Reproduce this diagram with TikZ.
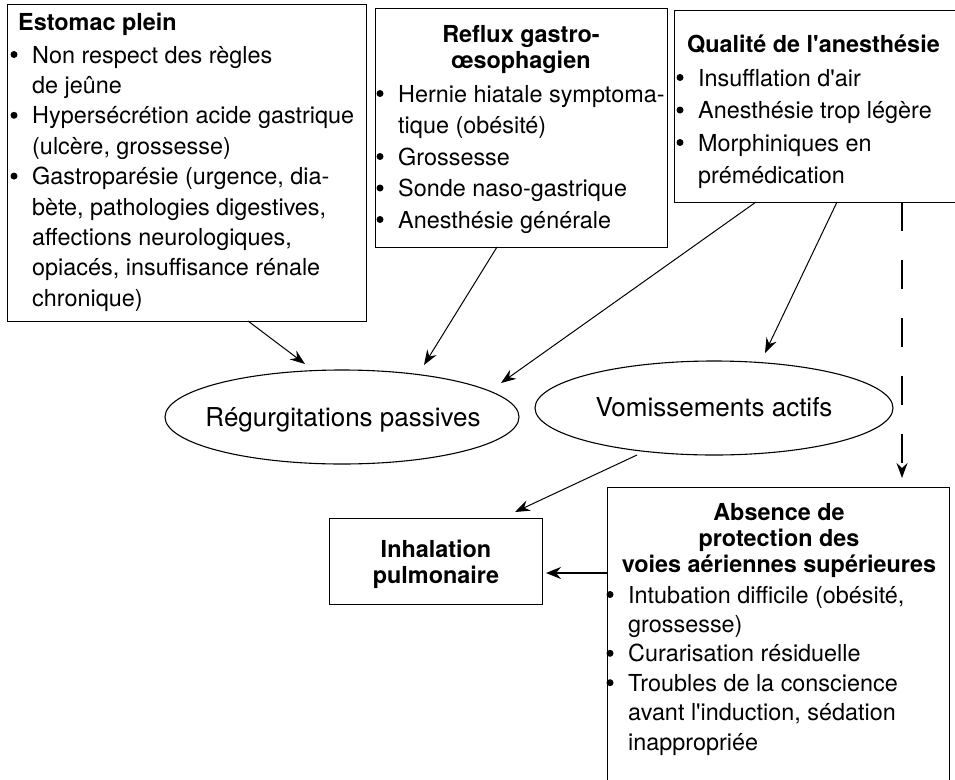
\documentclass[tikz,border=0pt]{standalone}
\usepackage{fontspec}
\setmainfont{TeX Gyre Heros}[Ligatures=TeXOff]
\usetikzlibrary{arrows.meta,calc,shapes.geometric}
\begin{document}
\begin{tikzpicture}[x=1pt,y=-1pt,
  box/.style={draw, line width=1.1pt, rectangle, inner sep=0pt, anchor=north west},
  oval/.style={draw, line width=1.1pt, ellipse, inner sep=0pt},
  conn/.style={line width=1pt, -{Stealth[length=15pt,width=11pt,inset=5pt]}},
  thickconn/.style={line width=2pt, -{Stealth[length=15pt,width=12pt,inset=5pt]}},
  dashconn/.style={line width=1.2pt, dash pattern=on 29pt off 29pt, -{Stealth[length=15pt,width=11pt,inset=5pt]}},
  txt/.style={anchor=base west, inner sep=0pt},
  ttl/.style={anchor=base, inner sep=0pt},
  ovaltxt/.style={anchor=base, inner sep=0pt, font=\fontsize{26}{30}\selectfont},
  bulletdot/.style={fill=black},
]
\useasboundingbox (0,0) rectangle (955,779);

% boxes
\node[box, minimum width=359pt, minimum height=317pt] (estomac) at (7,4) {};
\node[box, minimum width=292pt, minimum height=239pt] (reflux) at (375,8) {};
\node[box, minimum width=292pt, minimum height=192pt] (qualite) at (674,10) {};
\node[box, minimum width=213pt, minimum height=86pt] (inhal) at (329,518) {};
\node[box, minimum width=342pt, minimum height=312pt] (absence) at (607,487) {};

% ellipses
\node[oval, minimum width=354pt, minimum height=94pt] (regurg) at (342,417) {};
\node[oval, minimum width=358pt, minimum height=94pt] (vomis) at (714,408) {};

% texts: Estomac plein
\node[txt, font=\fontsize{23.4}{30.4}\selectfont\bfseries] (estomac-t) at (18,30) {Estomac plein};
\node[txt, font=\fontsize{23.4}{30.4}\selectfont] (estomac-l) at (32,63) {\parbox[t]{400pt}{\raggedright
Non respect des règles\\
de jeûne\\
Hypersécrétion acide gastrique\\
(ulcère, grossesse)\\
Gastroparésie (urgence, dia-\\
bète, pathologies digestives,\\
affections neurologiques,\\
opiacés, insuffisance rénale\\
chronique)}};
\foreach \y in {63,123.8,184.6} \fill[bulletdot] (14,\y-8.5) circle (3.5pt);

% Reflux
\node[ttl, font=\fontsize{23.4}{26}\selectfont\bfseries] (reflux-t) at (521,42) {\parbox[t]{290pt}{\centering Reflux gastro-\\œsophagien}};
\node[txt, font=\fontsize{23.4}{31.5}\selectfont] (reflux-l) at (398,102) {\parbox[t]{400pt}{\raggedright
Hernie hiatale symptoma-\\
tique (obésité)\\
Grossesse\\
Sonde naso-gastrique\\
Anesthésie générale}};
\foreach \y in {102,165,196.5,228} \fill[bulletdot] (380,\y-8.5) circle (3.5pt);

% Qualite
\node[txt, font=\fontsize{23.4}{30}\selectfont\bfseries] (qualite-t) at (687,52) {Qualité de l'anesthésie};
\node[txt, font=\fontsize{23.4}{32.5}\selectfont] (qualite-l) at (698,86) {\parbox[t]{400pt}{\raggedright
Insufflation d'air\\
Anesthésie trop légère\\
Morphiniques en\\
prémédication}};
\foreach \y in {86,118.5,151} \fill[bulletdot] (680,\y-8.5) circle (3.5pt);

% ellipse texts
\node[ovaltxt] (regurg-t) at (343,426) {Régurgitations passives};
\node[ovaltxt] (vomis-t) at (714,416) {Vomissements actifs};

% Inhalation
\node[ttl, font=\fontsize{23.4}{26}\selectfont\bfseries] (inhal-t) at (436,557) {\parbox[t]{210pt}{\centering Inhalation\\pulmonaire}};

% Absence
\node[ttl, font=\fontsize{23.4}{26}\selectfont\bfseries] (absence-t) at (779,520) {\parbox[t]{340pt}{\centering Absence de\\protection des\\voies aériennes supérieures}};
\node[txt, font=\fontsize{23.4}{29.4}\selectfont] (absence-l) at (628,603) {\parbox[t]{400pt}{\raggedright
Intubation difficile (obésité,\\
grossesse)\\
Curarisation résiduelle\\
Troubles de la conscience\\
avant l'induction, sédation\\
inappropriée}};
\foreach \y in {603,661.8,691.2} \fill[bulletdot] (610,\y-8.5) circle (3.5pt);

% connector end points
\coordinate (a1s) at (248,321);
\coordinate (a1e) at (305,364);
\coordinate (a2s) at (497,247);
\coordinate (a2e) at (424,365);
\coordinate (a3s) at (756,202);
\coordinate (a3e) at (501,383);
\coordinate (a4s) at (837,202);
\coordinate (a4e) at (765,353);
\coordinate (a5s) at (902,202);
\coordinate (a5e) at (902,478);
\coordinate (a6s) at (637,455);
\coordinate (a6e) at (515,512);
\coordinate (a7s) at (607,573);
\coordinate (a7e) at (546,573);

\draw[conn] (a1s) -- (a1e);
\draw[conn] (a2s) -- (a2e);
\draw[conn] (a3s) -- (a3e);
\draw[conn] (a4s) -- (a4e);
\draw[dashconn] (a5s) -- (a5e);
\draw[conn] (a6s) -- (a6e);
\draw[thickconn] (a7s) -- (a7e);
\end{tikzpicture}
\end{document}
